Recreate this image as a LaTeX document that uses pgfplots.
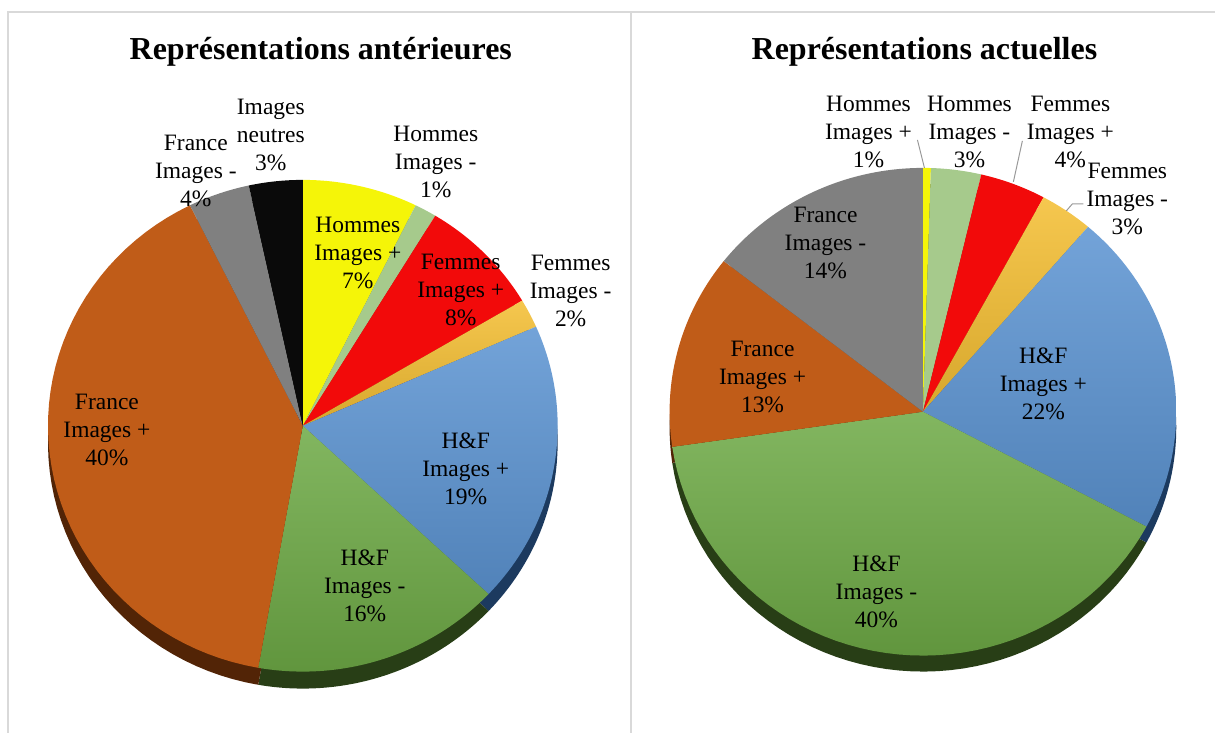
\documentclass[border=0pt]{standalone}
\usepackage{fontspec}
\setmainfont{Liberation Serif}
\usepackage{pgfplots}
\pgfplotsset{compat=1.18}

\definecolor{cyel}{RGB}{245,245,8}
\definecolor{clg}{RGB}{166,202,140}
\definecolor{cred}{RGB}{242,10,10}
\definecolor{cgold}{RGB}{244,190,50}
\definecolor{cblue}{RGB}{92,148,210}
\definecolor{cgreen}{RGB}{110,170,70}
\definecolor{cbrown}{RGB}{192,92,24}
\definecolor{cgray}{RGB}{128,128,128}
\definecolor{cblack}{RGB}{10,10,10}
\definecolor{dyel}{RGB}{110,110,0}
\definecolor{dlg}{RGB}{70,90,55}
\definecolor{dred}{RGB}{110,5,5}
\definecolor{dgold}{RGB}{110,85,20}
\definecolor{dblue}{RGB}{28,58,95}
\definecolor{dgreen}{RGB}{40,62,22}
\definecolor{dbrown}{RGB}{82,36,6}
\definecolor{dgray}{RGB}{60,60,60}
\definecolor{dblack}{RGB}{0,0,0}
\definecolor{frame}{RGB}{217,217,217}

% slice: cx, cy, rx, ry, start %, end %, colour
\newcommand{\slice}[7]{%
  \addplot[draw=none, fill=#7, domain=#5:#6, samples=50, variable=\t]
    ({#1+#3*sin(3.6*\t)}, {#2-#4*cos(3.6*\t)}) -- (axis cs:#1,#2) -- cycle;
}
% shaded slice: cx, cy, rx, ry, start %, end %, colour (light top, darker bottom)
\newcommand{\sslice}[7]{%
  \addplot[draw=none, top color=#7!86!white, bottom color=#7!88!black,
    domain=#5:#6, samples=50, variable=\t]
    ({#1+#3*sin(3.6*\t)}, {#2-#4*cos(3.6*\t)}) -- (axis cs:#1,#2) -- cycle;
}

\begin{document}
\begin{tikzpicture}[
  lab/.style={align=center, font=\fontsize{11.75}{14}\selectfont, inner sep=0pt},
  ttl/.style={font=\fontsize{16}{19}\selectfont\bfseries, inner sep=0pt}]
\begin{axis}[width=608pt, height=366.5pt, scale only axis,
  xmin=0, xmax=1216, ymin=0, ymax=733, y dir=reverse,
  hide axis, clip=false]
\addplot[draw=none] coordinates {(0,0) (1216,733)};
% frames
\draw[frame, line width=0.75pt] (axis cs:8,733) -- (axis cs:8,12) -- (axis cs:1216,12);
\draw[frame, line width=0.9pt] (axis cs:631,12) -- (axis cs:631,733);

% ---------- left pie: depth ----------
\slice{303}{443}{255}{246}{0}{7.3}{dyel}
\slice{303}{443}{255}{246}{7.3}{8.7}{dlg}
\slice{303}{443}{255}{246}{8.7}{16.5}{dred}
\slice{303}{443}{255}{246}{16.5}{18.4}{dgold}
\slice{303}{443}{255}{246}{18.4}{37.0}{dblue}
\slice{303}{443}{255}{246}{37.0}{52.8}{dgreen}
\slice{303}{443}{255}{246}{52.8}{92.7}{dbrown}
\slice{303}{443}{255}{246}{92.7}{96.6}{dgray}
\slice{303}{443}{255}{246}{96.6}{100}{dblack}
% ---------- left pie: top ----------
\slice{303}{426}{255}{246}{0}{7.3}{cyel}
\slice{303}{426}{255}{246}{7.3}{8.7}{clg}
\slice{303}{426}{255}{246}{8.7}{16.5}{cred}
\sslice{303}{426}{255}{246}{16.5}{18.4}{cgold}
\sslice{303}{426}{255}{246}{18.4}{37.0}{cblue}
\sslice{303}{426}{255}{246}{37.0}{52.8}{cgreen}
\slice{303}{426}{255}{246}{52.8}{92.7}{cbrown}
\slice{303}{426}{255}{246}{92.7}{96.6}{cgray}
\slice{303}{426}{255}{246}{96.6}{100}{cblack}

% ---------- right pie: depth ----------
\slice{923.5}{428}{253.5}{244}{0}{0.5}{dyel}
\slice{923.5}{428}{253.5}{244}{0.5}{3.7}{dlg}
\slice{923.5}{428}{253.5}{244}{3.7}{7.9}{dred}
\slice{923.5}{428}{253.5}{244}{7.9}{11.3}{dgold}
\slice{923.5}{428}{253.5}{244}{11.3}{32.8}{dblue}
\slice{923.5}{428}{253.5}{244}{32.8}{72.7}{dgreen}
\slice{923.5}{428}{253.5}{244}{72.7}{85.6}{dbrown}
\slice{923.5}{428}{253.5}{244}{85.6}{100}{dgray}
% ---------- right pie: top ----------
\slice{923.5}{412}{253.5}{244}{0}{0.5}{cyel}
\slice{923.5}{412}{253.5}{244}{0.5}{3.7}{clg}
\slice{923.5}{412}{253.5}{244}{3.7}{7.9}{cred}
\sslice{923.5}{412}{253.5}{244}{7.9}{11.3}{cgold}
\sslice{923.5}{412}{253.5}{244}{11.3}{32.8}{cblue}
\sslice{923.5}{412}{253.5}{244}{32.8}{72.7}{cgreen}
\slice{923.5}{412}{253.5}{244}{72.7}{85.6}{cbrown}
\slice{923.5}{412}{253.5}{244}{85.6}{100}{cgray}

% titles
\node[ttl] at (axis cs:321,52) {Représentations antérieures};
\node[ttl] at (axis cs:925,52) {Représentations actuelles};

% left labels
\node[lab] at (axis cs:271,135) {Images\\neutres\\3\%};
\node[lab] at (axis cs:196,171) {France\\Images -\\4\%};
\node[lab] at (axis cs:436,162) {Hommes\\Images -\\1\%};
\node[lab] at (axis cs:358,253) {Hommes\\Images +\\7\%};
\node[lab] at (axis cs:461,290) {Femmes\\Images +\\8\%};
\node[lab] at (axis cs:571,291) {Femmes\\Images -\\2\%};
\node[lab] at (axis cs:466,469) {H\&F\\Images +\\19\%};
\node[lab] at (axis cs:365,586) {H\&F\\Images -\\16\%};
\node[lab] at (axis cs:107,430) {France\\Images +\\40\%};

% right labels
\node[lab] at (axis cs:869,132) {Hommes\\Images +\\1\%};
\node[lab] at (axis cs:970,132) {Hommes\\Images -\\3\%};
\node[lab] at (axis cs:1071,132) {Femmes\\Images +\\4\%};
\node[lab] at (axis cs:1128,199) {Femmes\\Images -\\3\%};
\node[lab] at (axis cs:826,243) {France\\Images -\\14\%};
\node[lab] at (axis cs:763,377) {France\\Images +\\13\%};
\node[lab] at (axis cs:1044,384) {H\&F\\Images +\\22\%};
\node[lab] at (axis cs:877,592) {H\&F\\Images -\\40\%};

% leader lines
\draw[gray!80, line width=0.5pt] (axis cs:918,140) -- (axis cs:925,168);
\draw[gray!80, line width=0.5pt] (axis cs:1023,141) -- (axis cs:1014,182);
\draw[gray!80, line width=0.5pt] (axis cs:1067,211) -- (axis cs:1073,204) -- (axis cs:1084,204);
\end{axis}
\end{tikzpicture}
\end{document}
